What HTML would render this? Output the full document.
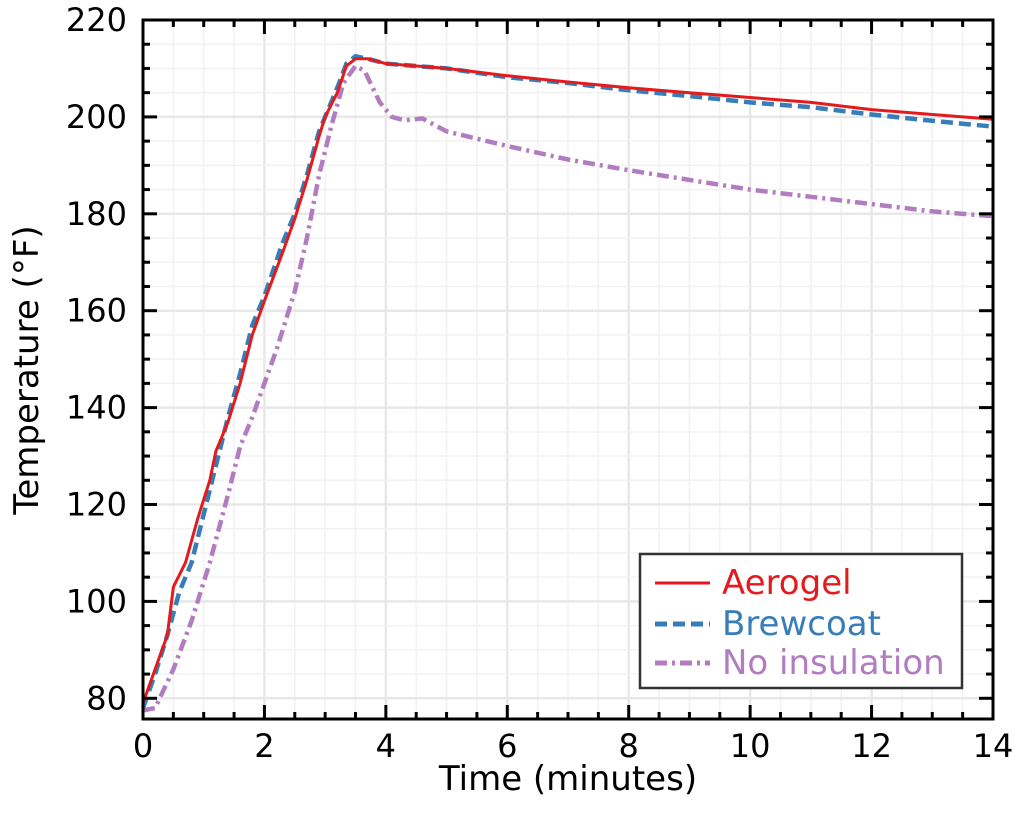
<!DOCTYPE html><html><head><style>body{margin:0;background:#fff}</style></head><body>
<svg width="1024" height="819" xmlns="http://www.w3.org/2000/svg" font-family="DejaVu Sans, Liberation Sans, sans-serif">
<g id="grid"></g>
<g id="data" fill="none"></g>
<rect x="143" y="20" width="850" height="699" fill="none" stroke="#000" stroke-width="3"/>
<g id="ticks" stroke="#000"></g>
<g font-size="32" fill="#000" id="labels"></g>
<text x="568" y="790" font-size="34" text-anchor="middle">Time (minutes)</text>
<text transform="translate(38,370) rotate(-90)" font-size="34" text-anchor="middle">Temperature (°F)</text>
<rect x="640" y="554" width="322" height="134" fill="#fff" stroke="#333" stroke-width="2.5"/>
<line x1="655" y1="583" x2="710" y2="583" stroke="#e41a1c" stroke-width="3"/>
<line x1="655" y1="624" x2="710" y2="624" stroke="#377eb8" stroke-width="5" stroke-dasharray="12,6"/>
<line x1="655" y1="663" x2="710" y2="663" stroke="#b27cc0" stroke-width="5" stroke-dasharray="12,5,3,5"/>
<text x="722" y="594" font-size="34" fill="#e41a1c">Aerogel</text>
<text x="722" y="635" font-size="34" fill="#377eb8">Brewcoat</text>
<text x="722" y="674" font-size="34" fill="#b27cc0">No insulation</text>
<script>
const X=t=>143+t*60.714,Y=v=>20+(220-v)*4.845;
const ns="http://www.w3.org/2000/svg";
function el(p,tag,a){const e=document.createElementNS(ns,tag);for(const k in a)e.setAttribute(k,a[k]);p.appendChild(e);return e}
const g=document.getElementById('grid'),tk=document.getElementById('ticks'),lb=document.getElementById('labels');
for(let t=0.5;t<14;t+=0.5){const x=X(t),maj=t%2==0;el(g,'line',{x1:x,x2:x,y1:20,y2:719,stroke:maj?'#e8e8e8':'#f2f2f2','stroke-width':maj?2.5:1.5});}
for(let v=80;v<220;v+=5){const y=Y(v),maj=v%20==0;el(g,'line',{x1:143,x2:993,y1:y,y2:y,stroke:maj?'#e8e8e8':'#f2f2f2','stroke-width':maj?2.5:1.5});}
for(let t=0;t<=14;t+=0.5){const x=X(t),L=t%2==0?14:7;el(tk,'line',{x1:x,x2:x,y1:719,y2:719-L,'stroke-width':3});el(tk,'line',{x1:x,x2:x,y1:20,y2:20+L,'stroke-width':3});
 if(t%2==0){const s=el(lb,'text',{x:x,y:757,'text-anchor':'middle'});s.textContent=t;}}
for(let v=80;v<=220;v+=5){const y=Y(v),L=v%20==0?14:7;el(tk,'line',{x1:143,x2:143+L,y1:y,y2:y,'stroke-width':3});el(tk,'line',{x1:993,x2:993-L,y1:y,y2:y,'stroke-width':3});
 if(v%20==0){const s=el(lb,'text',{x:127,y:y+11,'text-anchor':'end'});s.textContent=v;}}
const A=[[0,79],[0.2,86],[0.4,93],[0.5,103],[0.7,108],[0.9,117],[1.1,125],[1.2,131],[1.4,137],[1.6,145],[1.8,155],[2,162],[2.3,172],[2.5,179],[2.7,187],[2.9,196],[3.0,200],[3.2,205],[3.35,210.5],[3.5,212],[3.7,212],[4,211],[5,210],[6,208.5],[7,207.2],[8,206],[9,205],[10,204],[11,203],[12,201.5],[13,200.5],[14,199.5]];
const B=[[0,78],[0.2,85],[0.4,93],[0.6,102],[0.8,108],[1.0,118],[1.2,128],[1.4,138],[1.6,147],[1.8,157],[2,163],[2.3,174],[2.5,180],[2.7,188],[2.9,197],[3.0,200],[3.2,206],[3.35,211],[3.5,212.5],[3.7,212],[4,211],[5,210],[6,208.2],[7,207],[8,205.5],[9,204.3],[10,203],[11,202],[12,200.5],[13,199.2],[14,198]];
const N=[[0,77.5],[0.2,78],[0.5,86],[0.8,96],[1.1,108],[1.4,122],[1.6,132],[1.8,138],[2.0,145],[2.2,152],[2.5,164],[2.7,175],[2.9,188],[3.1,198],[3.3,207],[3.5,210.5],[3.65,209.5],[3.9,203],[4.1,200],[4.3,199.3],[4.6,199.7],[5,197],[6,194],[7,191.2],[8,189],[9,187],[10,185],[11,183.5],[12,182],[13,180.5],[14,179.5]];
const d=p=>'M'+p.map(q=>X(q[0]).toFixed(1)+','+Y(q[1]).toFixed(1)).join('L');
const D=document.getElementById('data');
el(D,'path',{d:d(N),stroke:'#b27cc0','stroke-width':4.5,'stroke-dasharray':'12,5,3,5'});
el(D,'path',{d:d(B),stroke:'#377eb8','stroke-width':4.5,'stroke-dasharray':'12,6'});
el(D,'path',{d:d(A),stroke:'#e41a1c','stroke-width':3});
</script>
</svg></body></html>
